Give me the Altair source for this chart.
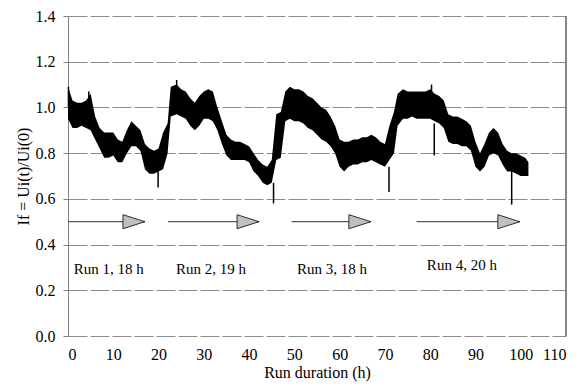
import altair as alt
import pandas as pd

# ---- data ----
hours = [float(h) for h in range(0, 102)] + [101.7]
hours[23] = 22.7   # steep rise at start of run 2
hours[73] = 72.8   # steep rise at start of run 4

band_hi = [1.09, 1.03, 1.02, 1.02, 1.03, 1.06, 0.96, 0.91, 0.89, 0.89,
           0.89, 0.86, 0.85, 0.90, 0.94, 0.92, 0.90, 0.84, 0.82, 0.81,
           0.82, 0.89, 0.93,
           1.09, 1.10, 1.08, 1.07, 1.04, 1.02, 1.05, 1.07, 1.08, 1.07,
           1.00, 0.94, 0.88, 0.86, 0.85, 0.85, 0.84, 0.83, 0.80, 0.77,
           0.75, 0.74, 0.77, 0.97, 0.98,
           1.07, 1.09, 1.08, 1.08, 1.07, 1.05, 1.04, 1.02, 1.00, 0.99,
           0.96, 0.92, 0.86, 0.85, 0.85, 0.86, 0.86, 0.87, 0.87, 0.88,
           0.87, 0.85, 0.84, 0.92, 0.98,
           1.06, 1.08, 1.07, 1.07, 1.07, 1.07, 1.07, 1.08, 1.06, 1.05,
           1.03, 0.97, 0.96, 0.96, 0.95, 0.94, 0.92, 0.85, 0.80, 0.84,
           0.89, 0.91, 0.89, 0.84, 0.81, 0.80, 0.80, 0.79, 0.78, 0.76]

band_lo = [0.95, 0.91, 0.91, 0.92, 0.91, 0.90, 0.86, 0.82, 0.78, 0.78,
           0.79, 0.76, 0.76, 0.80, 0.83, 0.83, 0.81, 0.73, 0.71, 0.71,
           0.72, 0.73, 0.80,
           0.96, 0.97, 0.96, 0.95, 0.92, 0.90, 0.92, 0.95, 0.95, 0.94,
           0.90, 0.84, 0.79, 0.77, 0.77, 0.77, 0.77, 0.76, 0.72, 0.70,
           0.67, 0.66, 0.67, 0.77, 0.78,
           0.94, 0.95, 0.94, 0.94, 0.93, 0.91, 0.90, 0.88, 0.86, 0.85,
           0.83, 0.80, 0.74, 0.72, 0.74, 0.75, 0.75, 0.76, 0.76, 0.77,
           0.76, 0.75, 0.74, 0.77, 0.80,
           0.92, 0.95, 0.95, 0.96, 0.95, 0.95, 0.95, 0.95, 0.94, 0.93,
           0.91, 0.85, 0.84, 0.84, 0.83, 0.83, 0.81, 0.74, 0.72, 0.74,
           0.79, 0.80, 0.79, 0.75, 0.72, 0.72, 0.71, 0.70, 0.70, 0.70]

spike_t = [0.1, 4.6, 19.9, 24.0, 45.4, 70.9, 80.3, 80.9, 98.0]
spike_from = [1.00, 1.00, 0.73, 1.05, 0.67, 0.74, 1.02, 0.93, 0.73]
spike_to = [1.09, 1.07, 0.65, 1.12, 0.58, 0.63, 1.10, 0.79, 0.575]

arrow_start = [0.0, 22.1, 49.4, 77.0]
arrow_end = [17.0, 42.2, 66.9, 99.8]
arrow_y = [0.5, 0.5, 0.5, 0.5]

run_labels = ["Run 1, 18 h", "Run 2, 19 h", "Run 3, 18 h", "Run 4, 20 h"]
label_x = [9.0, 31.6, 58.3, 87.0]
label_y = [0.295, 0.295, 0.295, 0.31]

x_ticks = list(range(0, 111, 10))
y_ticks = [0.0, 0.2, 0.4, 0.6, 0.8, 1.0, 1.2, 1.4]

FONT = "Liberation Serif"

band = pd.DataFrame({"h": hours, "lo": band_lo, "hi": band_hi})
spikes = pd.DataFrame({"h": spike_t, "lo": spike_from, "hi": spike_to})
arrows = pd.DataFrame({"h": arrow_start, "e": arrow_end, "lo": arrow_y})
heads = pd.DataFrame({"h": arrow_end, "lo": arrow_y})
labels = pd.DataFrame({"h": label_x, "lo": label_y, "text": run_labels})

x_scale = alt.Scale(domain=[0, 110], nice=False)
y_scale = alt.Scale(domain=[0, 1.4], nice=False)

x_axis = alt.Axis(values=x_ticks, grid=False,
                  domain=False, ticks=False, labelFont=FONT, labelFontSize=16,
                  labelColor="black", labelPadding=10, titleFont=FONT,
                  titleFontSize=16, titleFontWeight="normal", titleColor="black",
                  titlePadding=2)
y_axis = alt.Axis(values=y_ticks, format=".1f",
                  grid=True, gridDash=[19, 3], gridColor="#8c8c8c", gridWidth=1,
                  domain=True, domainColor="#808080", domainWidth=1,
                  ticks=True, tickSize=5, tickColor="#808080",
                  labelFont=FONT, labelFontSize=16, labelColor="black",
                  labelPadding=8, titleFont=FONT, titleFontSize=16,
                  titleFontWeight="normal", titleColor="black", titlePadding=4)


def X():
    return alt.X("h:Q", scale=x_scale, axis=x_axis, title="Run duration (h)")


def Y():
    return alt.Y("lo:Q", scale=y_scale, axis=y_axis, title="If = Ui(t)/Ui(0)")


band_layer = alt.Chart(band).mark_area(color="black", opacity=1).encode(
    x=X(), y=Y(), y2="hi:Q",
)

spike_layer = alt.Chart(spikes).mark_rule(color="black", strokeWidth=1.5).encode(
    x=X(), y=Y(), y2="hi:Q",
)

arrow_line = alt.Chart(arrows).mark_rule(color="#303030", strokeWidth=1).encode(
    x=X(), x2="e:Q", y=Y(),
)

arrow_head = alt.Chart(heads).mark_point(
    shape="M -2 -0.64 L 0 0 L -2 0.64 Z", size=484, filled=True,
    fill="#c0c0c0", stroke="#000000", strokeWidth=0.8, opacity=1,
).encode(
    x=X(), y=Y(),
)

text_layer = alt.Chart(labels).mark_text(
    font=FONT, fontSize=15, color="black", align="center", baseline="middle"
).encode(
    x=X(), y=Y(), text="text:N",
)

border = alt.Chart(labels).mark_rule(color="#808080", strokeWidth=1).encode(
    x=alt.value(498), y=alt.value(0), y2=alt.value(320)
)

chart = alt.layer(band_layer, spike_layer, arrow_line, arrow_head, text_layer, border).properties(
    width=498, height=320,
    padding={"left": 60, "top": 8, "right": 8, "bottom": 48},
    autosize=alt.AutoSizeParams(type="none"),
).configure_view(stroke=None)

chart.save("out.html", embed_options={"renderer": "svg", "actions": False})
